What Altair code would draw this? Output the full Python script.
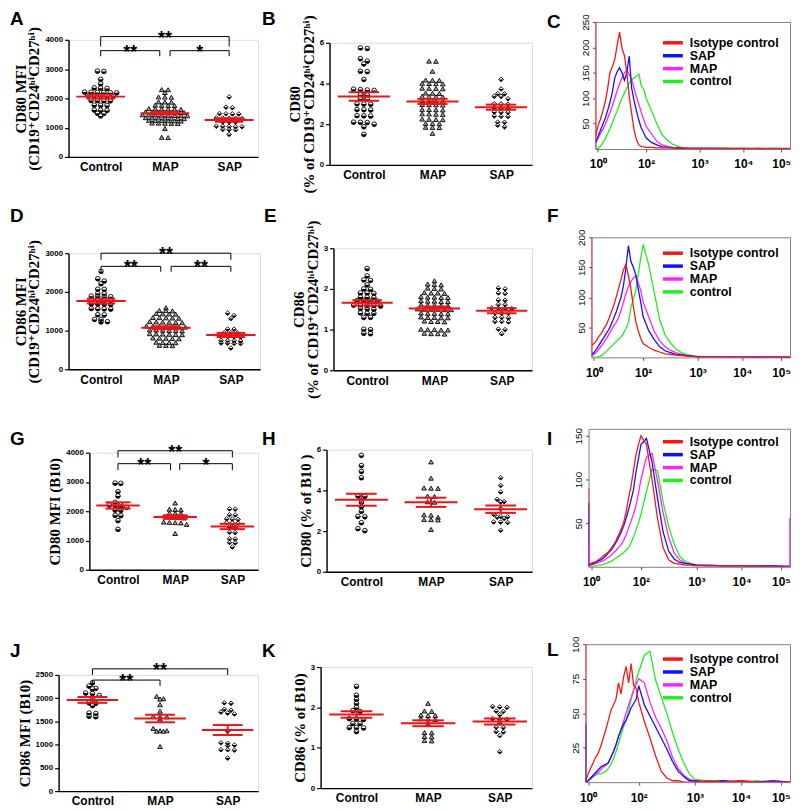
import altair as alt
import pandas as pd

SANS = "Liberation Sans, Arial, Helvetica, sans-serif"
SERIF = "Liberation Serif, 'Times New Roman', 'DejaVu Serif', serif"
RED = "#e8161b"

# ---------------- scatter data ----------------
A_CTRL = [2930, 2920, 2650, 2500, 2360, 2350, 2340, 2215, 2210, 2205, 2200, 2195, 2190, 2100, 2095, 2090, 2085, 2080,
          1930, 1925, 1920, 1915, 1770, 1765, 1760, 1600, 1595, 1590, 1490, 1485, 1400]
A_MAP = [2300, 2295, 2200, 2050, 2045, 2040, 1880, 1875, 1870, 1770, 1765, 1760, 1755, 1650, 1645, 1640, 1635, 1630,
         1625, 1540, 1535, 1530, 1525, 1520, 1515, 1510, 1440, 1435, 1430, 1425, 1420, 1415, 1410, 1405, 1340, 1335,
         1330, 1325, 1320, 1315, 1310, 1250, 1245, 1240, 1235, 1230, 1225, 1160, 1155, 1150, 1145, 1140, 970, 670, 660]
A_SAP = [2050, 1700, 1680, 1480, 1475, 1470, 1465, 1330, 1325, 1320, 1315, 1310, 1200, 1195, 1190, 1050, 1045, 1040,
         1035, 1030, 940, 935, 930, 770]

B_CTRL = [5.75, 5.72, 5.22, 5.1, 4.96, 4.6, 4.58, 4.2, 3.72, 3.7, 3.68, 3.66, 3.45, 3.43, 3.25, 3.23, 3.0, 2.99, 2.98,
          2.72, 2.71, 2.7, 2.42, 2.41, 2.4, 2.1, 2.09, 2.08, 2.0, 1.87, 1.5]
B_MAP = [5.1, 5.09, 4.6, 4.17, 4.16, 4.15, 4.01, 4.0, 3.99, 3.98, 3.77, 3.76, 3.75, 3.74, 3.53, 3.52, 3.51, 3.37, 3.36,
         3.35, 3.34, 3.16, 3.15, 3.14, 3.13, 2.97, 2.96, 2.95, 2.94, 2.73, 2.72, 2.71, 2.7, 2.51, 2.5, 2.49, 2.48, 2.25,
         2.24, 2.23, 2.22, 2.04, 2.03, 2.02, 1.85, 1.84, 1.83, 1.55]
B_SAP = [4.2, 3.73, 3.5, 3.49, 3.37, 3.36, 3.25, 3.0, 2.99, 2.98, 2.8, 2.79, 2.78, 2.6, 2.59, 2.58, 2.4, 2.39, 2.38,
         2.1, 2.09, 1.95, 1.87]

D_CTRL = [2530, 2340, 2280, 2210, 2070, 2065, 1960, 1955, 1890, 1885, 1880, 1875, 1790, 1785, 1780, 1775, 1690, 1685,
          1680, 1675, 1570, 1565, 1560, 1555, 1410, 1405, 1290, 1285, 1230, 1225]
D_MAP = [1590, 1520, 1515, 1510, 1440, 1435, 1430, 1425, 1340, 1335, 1330, 1325, 1320, 1230, 1225, 1220, 1215, 1210,
         1205, 1120, 1115, 1110, 1105, 1100, 1095, 1090, 1020, 1015, 1010, 1005, 1000, 995, 920, 915, 910, 905, 900,
         895, 810, 805, 800, 795, 790, 700, 695, 690, 685, 620, 615, 610]
D_SAP = [1450, 1390, 1310, 1040, 1035, 950, 945, 940, 850, 845, 840, 835, 745, 740, 735, 730, 680, 675, 670, 665, 550]

E_CTRL = [2.5, 2.32, 2.22, 2.21, 2.1, 2.0, 1.99, 1.9, 1.9, 1.89, 1.8, 1.8, 1.79, 1.71, 1.71, 1.7, 1.7, 1.6, 1.6, 1.59,
          1.59, 1.58, 1.52, 1.51, 1.5, 1.41, 1.4, 1.4, 1.3, 1.3, 1.01, 1.0, 0.91, 0.9]
E_MAP = [2.2, 2.12, 2.11, 2.1, 2.02, 2.01, 2.0, 1.91, 1.9, 1.9, 1.89, 1.81, 1.8, 1.8, 1.79, 1.79, 1.71, 1.7, 1.7, 1.69,
         1.69, 1.61, 1.6, 1.6, 1.59, 1.59, 1.51, 1.5, 1.5, 1.5, 1.49, 1.49, 1.41, 1.4, 1.4, 1.39, 1.39, 1.31, 1.3, 1.3,
         1.29, 1.29, 1.21, 1.2, 1.2, 1.19, 1.01, 1.0, 1.0, 0.99, 0.99, 0.91, 0.9, 0.9, 0.89]
E_SAP = [2.02, 2.0, 1.9, 1.89, 1.73, 1.72, 1.62, 1.61, 1.53, 1.52, 1.52, 1.51, 1.41, 1.4, 1.4, 1.3, 1.3, 1.29, 1.2,
         1.2, 1.19, 1.01, 1.0, 0.9]

G_CTRL = [2960, 2950, 2670, 2520, 2300, 2220, 2210, 2200, 2140, 2130, 2040, 2030, 1860, 1850, 1680, 1380]
G_MAP = [2280, 2070, 2060, 2050, 1940, 1930, 1920, 1800, 1790, 1780, 1770, 1630, 1620, 1610, 1600, 1550, 1240]
G_SAP = [2080, 2070, 1880, 1870, 1740, 1730, 1720, 1610, 1600, 1590, 1460, 1450, 1280, 1270, 1060, 1050, 930, 920, 780]

H_CTRL = [5.72, 5.22, 4.93, 4.62, 3.73, 3.71, 3.6, 3.42, 3.2, 2.97, 2.72, 2.7, 2.41, 2.12, 2.02]
H_MAP = [5.4, 4.6, 4.12, 4.11, 4.1, 3.72, 3.7, 3.44, 3.42, 2.8, 2.78, 2.68, 2.57, 2.56, 2.55, 2.08]
H_SAP = [4.62, 4.24, 3.92, 3.56, 3.45, 3.43, 3.1, 2.82, 2.72, 2.7, 2.68, 2.62, 2.45, 2.44, 2.42, 2.04]

J_CTRL = [2330, 2260, 2210, 2200, 2110, 2100, 2060, 1990, 1900, 1890, 1840, 1680, 1670, 1610, 1600]
J_MAP = [2040, 1990, 1980, 1860, 1720, 1610, 1600, 1600, 1550, 1350, 1300, 1300, 1290, 1290, 960]
J_SAP = [1900, 1890, 1760, 1740, 1700, 1680, 1660, 1290, 1040, 1030, 990, 980, 890, 890, 880, 710]

K_CTRL = [2.52, 2.3, 2.2, 2.1, 2.0, 1.92, 1.9, 1.72, 1.71, 1.7, 1.6, 1.6, 1.5, 1.5, 1.49, 1.4]
K_MAP = [2.1, 1.91, 1.9, 1.81, 1.8, 1.8, 1.72, 1.71, 1.7, 1.6, 1.38, 1.37, 1.28, 1.27, 1.18, 1.17]
K_SAP = [2.02, 2.01, 2.0, 1.91, 1.9, 1.82, 1.72, 1.71, 1.7, 1.61, 1.51, 1.5, 1.4, 1.39, 1.3, 0.9]

GROUPS = ["Control", "MAP", "SAP"]

# significance brackets: [from group, to group, bar level, tick end, label]
BR_A = [[0, 2, 4110, 3775, "**"], [0, 0.92, 3630, 3440, "**"], [1.08, 2, 3630, 3440, "*"]]
BR_D = [[0, 2, 3000, 2830, "**"], [0, 0.92, 2660, 2520, "**"], [1.08, 2, 2660, 2520, "**"]]
BR_G = [[0, 2, 4066, 3834, "**"], [0, 0.92, 3624, 3403, "**"], [1.08, 2, 3624, 3403, "*"]]
BR_J = [[0, 2, 2632, 2500, "**"], [0, 1.0, 2390, 2264, "**"]]

# ---------------- histogram data ----------------
LV = [-0.1, 0.0, 0.1, 0.2, 0.3, 0.4, 0.5, 0.6, 0.7, 0.8, 0.9, 1.0, 1.1, 1.2, 1.3, 1.4, 1.5, 1.6, 1.7, 1.8, 1.9, 2.0,
      2.1, 2.2, 2.3, 2.4, 2.5, 2.6, 2.7, 2.8, 2.9, 3.0, 3.3, 3.6, 4.0, 4.4, 4.8, 5.2]
SERIES = ["Isotype control", "SAP", "MAP", "control"]
COLORS = ["#ff1414", "#1010ff", "#ff22ff", "#22ee22"]

C_CURVES = {
    "Isotype control": [24, 45, 58, 74, 92, 118, 150, 162, 176, 205, 230, 198, 184, 150, 104, 70, 38, 18, 8, 5, 4, 3, 3,
                        2, 2, 2, 2, 1, 2, 1, 1, 1, 1, 1, 1, 1, 1, 1],
    "SAP": [14, 24, 36, 48, 60, 75, 92, 112, 140, 152, 160, 150, 135, 150, 183, 120, 95, 75, 56, 42, 32, 22, 13, 8, 4, 3,
            2, 2, 1, 1, 1, 1, 1, 1, 0, 1, 0, 0],
    "MAP": [11, 20, 30, 38, 48, 60, 72, 85, 100, 115, 128, 140, 150, 155, 146, 137, 120, 102, 88, 72, 58, 45, 30, 15, 8,
            5, 3, 2, 1, 1, 1, 1, 1, 0, 1, 0, 0, 0],
    "control": [0, 1, 5, 12, 20, 30, 40, 52, 64, 75, 88, 100, 110, 120, 130, 136, 140, 143, 148, 124, 118, 100, 76, 50,
                28, 17, 9, 5, 2, 1, 1, 1, 1, 1, 1, 0, 1, 0],
}
F_CURVES = {
    "Isotype control": [20, 23, 28, 35, 40, 48, 54, 64, 75, 86, 100, 115, 130, 146, 155, 136, 115, 85, 60, 44, 32, 23,
                        17, 12, 9, 6, 5, 4, 3, 2, 2, 1, 1, 1, 1, 1, 1, 1],
    "SAP": [5, 8, 14, 20, 27, 33, 40, 46, 55, 65, 75, 88, 100, 120, 150, 186, 160, 150, 138, 114, 92, 68, 45, 30, 18, 11,
            8, 5, 4, 3, 2, 1, 1, 1, 1, 0, 1, 0],
    "MAP": [3, 5, 9, 14, 19, 25, 31, 38, 45, 52, 58, 66, 78, 92, 106, 118, 126, 132, 136, 124, 112, 92, 68, 44, 28, 18,
            12, 8, 5, 3, 2, 1, 1, 1, 0, 1, 0, 0],
    "control": [0, 0, 1, 1, 3, 6, 10, 14, 18, 22, 26, 30, 34, 40, 48, 58, 82, 98, 110, 138, 165, 188, 155, 110, 64, 38,
                24, 14, 8, 5, 3, 2, 1, 1, 1, 1, 0, 1],
}
I_CURVES = {
    "Isotype control": [3, 4, 5, 6, 8, 10, 13, 15, 17, 21, 25, 30, 36, 43, 50, 62, 78, 92, 110, 128, 140, 150, 140, 100,
                        55, 22, 8, 4, 3, 2, 2, 1, 1, 1, 1, 1, 0, 0],
    "SAP": [2, 3, 4, 5, 7, 8, 10, 13, 16, 19, 23, 28, 33, 39, 46, 55, 65, 76, 88, 108, 124, 140, 147, 120, 78, 40, 18, 9,
            5, 4, 3, 2, 2, 1, 1, 1, 1, 0],
    "MAP": [1, 2, 3, 4, 5, 6, 7, 9, 11, 13, 16, 19, 22, 25, 30, 36, 44, 52, 60, 70, 84, 100, 126, 130, 98, 62, 34, 16, 8,
            4, 3, 2, 1, 1, 1, 1, 1, 1],
    "control": [0, 0, 1, 1, 2, 2, 3, 4, 5, 6, 8, 10, 12, 14, 16, 19, 22, 27, 34, 42, 50, 60, 86, 112, 110, 74, 46, 26, 12,
                6, 4, 2, 1, 1, 1, 0, 1, 0],
}
L_CURVES = {
    "Isotype control": [1, 6, 10, 14, 18, 21, 26, 32, 38, 45, 52, 56, 60, 72, 64, 76, 84, 72, 86, 70, 68, 58, 44, 32, 19,
                        8, 3, 1, 1, 0, 0, 0, 1, 0, 1, 0, 0, 0],
    "SAP": [0, 1, 3, 5, 7, 9, 11, 12, 13, 14, 18, 22, 27, 33, 38, 42, 45, 49, 54, 57, 60, 70, 56, 48, 40, 32, 24, 15, 8,
            4, 1, 1, 0, 1, 0, 0, 1, 0],
    "MAP": [0, 1, 3, 4, 6, 7, 9, 11, 12, 14, 18, 22, 27, 33, 38, 44, 50, 56, 61, 67, 71, 75, 72, 58, 47, 39, 30, 18, 10,
            5, 2, 1, 0, 0, 1, 0, 0, 0],
    "control": [0, 1, 2, 4, 5, 6, 6, 7, 8, 10, 13, 17, 22, 28, 34, 40, 45, 52, 60, 67, 74, 80, 92, 95, 74, 62, 50, 36,
                24, 14, 6, 2, 1, 1, 0, 1, 0, 0],
}
# off-scale events piled on the plot edges: [series, position, count]
C_EDGE = [["Isotype control", -0.1, 250]]
F_EDGE = [["Isotype control", -0.1, 200]]
I_EDGE = [["Isotype control", -0.1, 90], ["SAP", -0.1, 73], ["MAP", -0.1, 28], ["MAP", 5.2, 56]]
L_EDGE = [["Isotype control", -0.1, 100], ["SAP", -0.1, 42]]

HALF_CIRCLE = "M -1 0 L -0.92 0.38 L -0.71 0.71 L -0.38 0.92 L 0 1 L 0.38 0.92 L 0.71 0.71 L 0.92 0.38 L 1 0 Z"
HALF_DIAMOND = "M -1 0 L 1 0 L 0 1 Z"
DECADE_EXPR = "['10\u2070','10\u00b9','10\u00b2','10\u00b3','10\u2074','10\u2075'][datum.value]"
NOVIEW = alt.ViewBackground(stroke="transparent", strokeWidth=0)


def swarm(groups, tol, step):
    out = []
    for gi, vs in enumerate(groups):
        rows = []
        for v in sorted(vs, reverse=True):
            if rows and rows[-1][0] - v <= tol + 1e-9:
                rows[-1].append(v)
            else:
                rows.append([v])
        for r in rows:
            k = len(r)
            for i, v in enumerate(r):
                out.append({"cat": gi, "x": gi + (i - (k - 1) / 2) * step, "v": v})
    return pd.DataFrame(out)


def letter_mark(letter, ldx, ldy):
    return alt.Chart(pd.DataFrame({"t": [letter]})).mark_text(
        font=SANS, fontSize=19, fontWeight="bold", align="left", baseline="top", color="black").encode(
        x=alt.value(ldx), y=alt.value(ldy - 3), text="t:N")


def spacer(w, h):
    base = alt.Chart(pd.DataFrame({"a": [0]}))
    return alt.layer(
        base.mark_rule(opacity=0, strokeWidth=1).encode(x=alt.value(0), x2=alt.value(w), y=alt.value(0)),
        base.mark_rule(opacity=0, strokeWidth=1).encode(x=alt.value(0), y=alt.value(0), y2=alt.value(h)),
    ).properties(width=w, height=h, view=NOVIEW)


def scatter(letter, groups, ymax, yvals, ytitle, brackets, w, h, ldx, ldy):
    df = swarm(groups, 0.02 * ymax, 0.1)
    xs = alt.Scale(domain=[-0.5, 2.45], nice=False, zero=False)
    ys = alt.Scale(domain=[0, ymax], nice=False, zero=True)
    xax = alt.Axis(values=[0, 1, 2], labelExpr="['Control','MAP','SAP'][datum.value]", title=None, ticks=False,
                   labelFont=SANS, labelFontSize=12, labelFontWeight="bold", labelColor="black", labelPadding=5,
                   domainColor="black", domainWidth=1.4, grid=False)
    yax = alt.Axis(values=yvals, format="d", title=ytitle, titleFont=SERIF, titleFontSize=15, titleFontWeight="bold",
                   titleColor="black", titlePadding=3, titleLineHeight=14, labelFont=SANS, labelFontSize=8,
                   labelFontWeight="bold", labelColor="black", tickColor="black", tickSize=4, tickWidth=1.2,
                   domainColor="black", domainWidth=1.4, grid=False)

    def X(f):
        return alt.X(f, scale=xs, axis=xax)

    def Y(f):
        return alt.Y(f, scale=ys, axis=yax)

    base = alt.Chart(df)
    g0 = base.transform_filter("datum.cat == 0")
    g1 = base.transform_filter("datum.cat == 1")
    g2 = base.transform_filter("datum.cat == 2")
    pt = dict(size=22, opacity=1, filled=True)
    layers = [
        g0.mark_point(shape="circle", fill="white", stroke="black", strokeWidth=0.9, **pt).encode(x=X("x:Q"), y=Y("v:Q")),
        g0.mark_point(shape=HALF_CIRCLE, fill="black", strokeWidth=0, **pt).encode(x=X("x:Q"), y=Y("v:Q")),
        g1.mark_point(shape="triangle-up", fill="#a8a8a8", stroke="black", strokeWidth=0.9, **pt).encode(x=X("x:Q"), y=Y("v:Q")),
        g2.mark_point(shape="diamond", fill="white", stroke="black", strokeWidth=0.9, **pt).encode(x=X("x:Q"), y=Y("v:Q")),
        g2.mark_point(shape=HALF_DIAMOND, fill="black", strokeWidth=0, **pt).encode(x=X("x:Q"), y=Y("v:Q")),
    ]
    st = base.transform_aggregate(m="mean(v)", s="stderr(v)", groupby=["cat"]).transform_calculate(
        lo="datum.m - datum.s", hi="datum.m + datum.s", xa="datum.cat - 0.38", xb="datum.cat + 0.38",
        sa="datum.cat - 0.22", sb="datum.cat + 0.22")
    rr = dict(color=RED, strokeWidth=2)
    layers += [
        st.mark_rule(**rr).encode(x=X("xa:Q"), x2="xb:Q", y=Y("m:Q")),
        st.mark_rule(**rr).encode(x=X("sa:Q"), x2="sb:Q", y=Y("hi:Q")),
        st.mark_rule(**rr).encode(x=X("sa:Q"), x2="sb:Q", y=Y("lo:Q")),
        st.mark_rule(**rr).encode(x=X("cat:Q"), y=Y("lo:Q"), y2="hi:Q"),
    ]
    if brackets:
        bdf = pd.DataFrame(brackets, columns=["x1", "x2", "y", "yb", "lab"])
        bb = alt.Chart(bdf)
        br = dict(color="black", strokeWidth=1)
        layers += [
            bb.mark_rule(**br).encode(x=X("x1:Q"), x2="x2:Q", y=Y("y:Q")),
            bb.mark_rule(**br).encode(x=X("x1:Q"), y=Y("y:Q"), y2="yb:Q"),
            bb.mark_rule(**br).encode(x=X("x2:Q"), y=Y("y:Q"), y2="yb:Q"),
            bb.transform_calculate(xm="(datum.x1 + datum.x2) / 2").mark_text(
                font=SANS, fontSize=18, fontWeight="bold", baseline="alphabetic", dy=7, color="black").encode(
                x=X("xm:Q"), y=Y("y:Q"), text="lab:N"),
        ]
    layers.append(letter_mark(letter, ldx, ldy))
    return alt.layer(*layers).properties(width=w, height=h)


XDOM = [-0.1, 2, 3, 4, 5, 5.2]
XFRAC = [0, 0.26, 0.535, 0.76, 0.955, 1.0]


def hist(letter, curves, edges, ymax, yvals, labels, w, h, ly, ldx, ldy):
    xs = alt.Scale(domain=XDOM, range=[f * w for f in XFRAC], nice=False, zero=False)
    ys = alt.Scale(domain=[0, ymax], nice=False, zero=True)
    xax = alt.Axis(values=[0, 2, 3, 4, 5], labelExpr=DECADE_EXPR,
                   title=None, labelFont=SANS, labelFontSize=12, labelFontWeight="bold", labelColor="black",
                   labelPadding=7, tickSize=3, tickColor="#555", domain=False, grid=False)
    yax = alt.Axis(values=yvals, title=None, labelFont=SANS, labelFontSize=10, labelColor="black", labelAngle=270,
                   labelAlign="center", labelBaseline="bottom", labelPadding=2, tickSize=3, tickColor="#555",
                   domain=False, grid=False)

    def X(f):
        return alt.X(f, scale=xs, axis=xax)

    def Y(f):
        return alt.Y(f, scale=ys, axis=yax)

    layers = []
    for name in ["control", "MAP", "SAP", "Isotype control"]:
        df = pd.DataFrame({"lv": LV, "n": curves[name], "i": list(range(len(LV)))})
        layers.append(alt.Chart(df).mark_line(color=COLORS[SERIES.index(name)], strokeWidth=1.3, clip=True).encode(
            x=X("lv:Q"), y=Y("n:Q"), order="i:Q"))
    edf = pd.DataFrame(edges, columns=["s", "lv", "n"])
    for s, c in zip(SERIES, COLORS):
        layers.append(alt.Chart(edf).transform_filter(alt.datum.s == s).transform_calculate(z="0").mark_rule(
            strokeWidth=1.5, color=c, clip=True).encode(x=X("lv:Q"), y=Y("z:Q"), y2="n:Q"))
    lx = w - 128
    for i, (lab, col) in enumerate(zip(labels, COLORS)):
        one = alt.Chart(pd.DataFrame({"t": [lab]}))
        yy = ly + i * 13
        layers.append(one.mark_rule(color=col, strokeWidth=3.5).encode(
            x=alt.value(lx), x2=alt.value(lx + 20), y=alt.value(yy)))
        layers.append(one.mark_text(font=SANS, fontSize=12.5, fontWeight="bold", align="left", baseline="middle",
                                    color="black").encode(x=alt.value(lx + 27), y=alt.value(yy), text="t:N"))
    layers.append(letter_mark(letter, ldx, ldy))
    return alt.layer(*layers).properties(width=w, height=h,
                                         view=alt.ViewBackground(stroke="#808080", strokeWidth=1))


def cell(panel, sh):
    return alt.vconcat(spacer(1, sh), panel, spacing=0)


def row(p, q, r):
    return alt.hconcat(spacer(1, 1), p, spacer(2, 1), q, spacer(13, 1), r, spacing=0)


SUB = "(CD19⁺CD24ʰⁱCD27ʰⁱ)"
SUBP = "(% of CD19⁺CD24ʰⁱCD27ʰⁱ)"
NB = "\u00a0\u00a0"

A = scatter("A", [A_CTRL, A_MAP, A_SAP], 4000, [0, 1000, 2000, 3000, 4000], ["CD80 MFI", SUB], BR_A, 191, 118, -59, -27)
B = scatter("B", [B_CTRL, B_MAP, B_SAP], 6, [0, 2, 4, 6], ["CD80", SUBP], None, 204, 123, -68, -30)
C = hist("C", C_CURVES, C_EDGE, 250, [50, 100, 150, 200, 250], SERIES, 196, 128, 21, -49, -6)

D = scatter("D", [D_CTRL, D_MAP, D_SAP], 3000, [0, 1000, 2000, 3000], ["CD86 MFI", SUB], BR_D, 193, 117, -59, -43)
E = scatter("E", [E_CTRL, E_MAP, E_SAP], 3, [0, 1, 2, 3], ["CD86", SUBP], None, 200, 123, -70, -38)
F = hist("F", F_CURVES, F_EDGE, 200, [50, 100, 150, 200],
         ["Isotype control", NB + "SAP", NB + "MAP", "\u00a0control"], 200, 121, 16, -45, -27)

G = scatter("G", [G_CTRL, G_MAP, G_SAP], 4000, [0, 1000, 2000, 3000, 4000], "CD80 MFI (B10)", BR_G, 170, 118, -80, -20)
H = scatter("H", [H_CTRL, H_MAP, H_SAP], 6, [0, 2, 4, 6], "CD80 (% of B10 )", None, 207, 123, -65, -17)
I = hist("I", I_CURVES, I_EDGE, 158, [50, 100, 150], SERIES, 203, 139, 13, -42, 4)

J = scatter("J", [J_CTRL, J_MAP, J_SAP], 2500, [0, 500, 1000, 1500, 2000, 2500], "CD86 MFI (B10)", BR_J, 201, 117, -49, -30)
K = scatter("K", [K_CTRL, K_MAP, K_SAP], 3, [0, 1, 2, 3], "CD86 (% of B10)", None, 213, 122, -59, -22)
L = hist("L", L_CURVES, L_EDGE, 100, [25, 50, 75, 100], SERIES, 206, 139, 15, -39, 0)

chart = alt.vconcat(
    row(cell(A, 1), cell(B, 1), cell(C, 4)),
    spacer(1, 12),
    row(cell(D, 1), cell(E, 1), cell(F, 1)),
    spacer(1, 27),
    row(cell(G, 3), cell(H, 3), cell(I, 1)),
    spacer(1, 46),
    row(cell(J, 7), cell(K, 7), cell(L, 1)),
    spacing=0,
).properties(padding={"top": -3, "left": 0, "right": 0, "bottom": 0}).configure_view(
    stroke=None).configure(background="white")

chart.save("out.html", embed_options={"renderer": "svg", "actions": False})
